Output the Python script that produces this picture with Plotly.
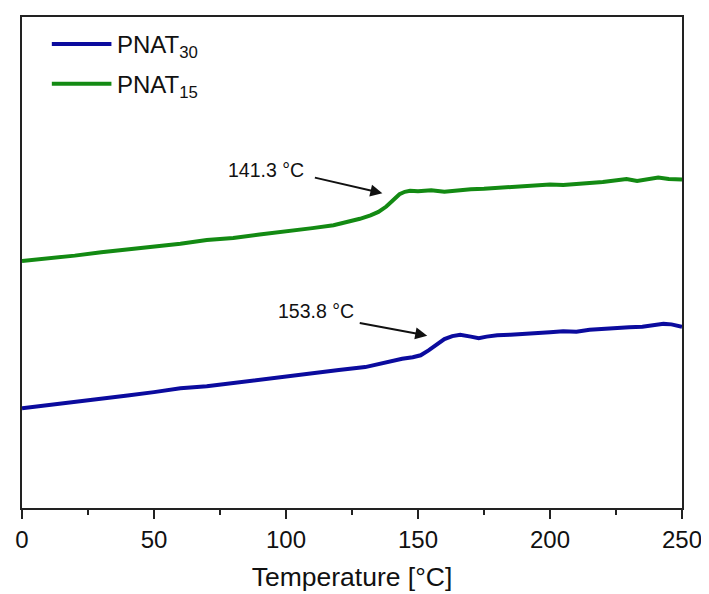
import plotly.graph_objects as go

# Temperature [°C] and heat flow (arbitrary units)
temp_15 = [0, 10, 20, 30, 40, 50, 60, 70, 80, 90, 100, 110, 118, 124, 128, 132, 135, 138,
           141, 143, 145, 147, 150, 155, 160, 165, 170, 175, 180, 185, 190, 195, 200, 205,
           210, 215, 220, 225, 229, 233, 237, 241, 245, 250]
heat_15 = [50.3, 50.8, 51.4, 52.1, 52.6, 53.3, 53.8, 54.6, 55.0, 55.7, 56.3, 57.0, 57.6, 58.3,
           58.9, 59.6, 60.3, 61.4, 62.9, 63.9, 64.4, 64.6, 64.5, 64.7, 64.4, 64.7, 64.9, 65.0,
           65.2, 65.3, 65.5, 65.6, 65.9, 65.8, 66.1, 66.2, 66.4, 66.7, 67.0, 66.6, 66.9, 67.3,
           67.0, 66.9]

temp_30 = [0, 10, 20, 30, 40, 50, 60, 70, 80, 90, 100, 110, 120, 130, 136, 140, 144, 148,
           151, 154, 157, 160, 163, 166, 170, 173, 176, 180, 185, 190, 195, 200, 205, 210,
           215, 220, 225, 230, 235, 240, 243, 246, 250]
heat_30 = [20.3, 20.9, 21.6, 22.3, 22.9, 23.6, 24.4, 24.8, 25.5, 26.1, 26.8, 27.4, 28.1, 28.7,
           29.5, 29.9, 30.4, 30.7, 31.1, 32.1, 33.3, 34.4, 35.0, 35.3, 34.9, 34.6, 34.9, 35.2,
           35.3, 35.4, 35.7, 35.8, 36.0, 35.9, 36.3, 36.5, 36.6, 36.8, 36.9, 37.3, 37.5, 37.4,
           36.9]

labels = ["PNAT<sub>30</sub>", "PNAT<sub>15</sub>"]
colors = ["#0b0b9e", "#138a13"]
tg_15 = [141.3]
tg_30 = [153.8]

FONT = "Liberation Sans, Arial, sans-serif"

fig = go.Figure()
fig.add_trace(go.Scatter(x=temp_30, y=heat_30, mode="lines", name=labels[0],
                         line=dict(color=colors[0], width=4), showlegend=False))
fig.add_trace(go.Scatter(x=temp_15, y=heat_15, mode="lines", name=labels[1],
                         line=dict(color=colors[1], width=4), showlegend=False))

# legend (drawn as key lines + labels in paper space)
leg_y = [0.9452, 0.8641]
for lab, col, yy in zip(labels, colors, leg_y):
    fig.add_shape(type="line", xref="paper", yref="paper", x0=0.0452, x1=0.1355, y0=yy, y1=yy,
                  line=dict(color=col, width=4))
    fig.add_annotation(xref="paper", yref="paper", x=0.1416, y=yy, xanchor="left", yanchor="middle",
                       text=lab, showarrow=False, yshift=-3,
                       font=dict(size=24, color="#111", family=FONT))

# annotations: text labels and arrows
fig.add_annotation(x=92.4, y=68.8, text=f"{tg_15[0]} °C", showarrow=False,
                   font=dict(size=19.5, color="#111", family=FONT))
fig.add_annotation(x=136.5, y=64.1, text="", showarrow=True, ax=-69, ay=-16,
                   arrowhead=2, arrowsize=1.2, arrowwidth=2, arrowcolor="#111", standoff=0)
fig.add_annotation(x=111.2, y=40.2, text=f"{tg_30[0]} °C", showarrow=False,
                   font=dict(size=19.5, color="#111", family=FONT))
fig.add_annotation(x=153.5, y=35.1, text="", showarrow=True, ax=-69, ay=-13,
                   arrowhead=2, arrowsize=1.2, arrowwidth=2, arrowcolor="#111", standoff=0)

# page body has an 8px margin: compensate so the plot area lands at x 20..684, y 15..508
fig.update_layout(
    width=701, height=586,
    margin=dict(l=12, r=25, t=7, b=86),
    paper_bgcolor="white", plot_bgcolor="white",
    font=dict(family=FONT, color="#111"),
    showlegend=False,
    xaxis=dict(range=[0, 250], dtick=50, tick0=0, showgrid=False, zeroline=False,
               showline=True, linecolor="#222", linewidth=1.5, mirror=True,
               ticks="outside", ticklen=9, tickwidth=1.5, tickcolor="#222",
               tickfont=dict(size=24, family=FONT, color="#111"),
               minor=dict(dtick=25, ticks="outside", ticklen=5, tickwidth=1.5, tickcolor="#222"),
               title=dict(text="Temperature [°C]", font=dict(size=26.5, family=FONT, color="#111"),
                          standoff=16)),
    yaxis=dict(range=[0, 100], showgrid=False, zeroline=False, showticklabels=False,
               showline=True, linecolor="#222", linewidth=1.5, mirror=True, ticks=""),
)

fig.write_html("out.html")
